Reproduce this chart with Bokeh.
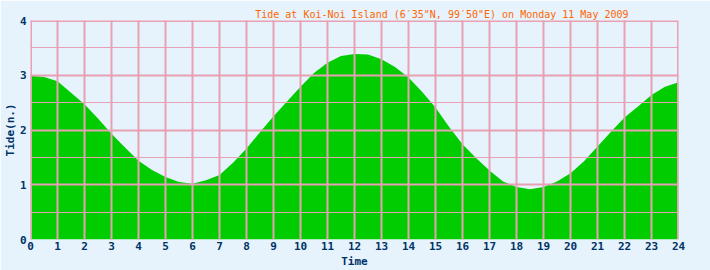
from bokeh.plotting import figure
from bokeh.models import FixedTicker, Range1d, Title, Span
from bokeh.embed import file_html
from bokeh.resources import INLINE

# Data (hour of day, tide height in metres)
hours = [0, 0.5, 1, 1.5, 2, 2.5, 3, 3.5, 4, 4.5, 5, 5.5, 6, 6.5, 7, 7.5, 8, 8.5,
         9, 9.5, 10, 10.5, 11, 11.5, 12, 12.5, 13, 13.5, 14, 14.5, 15, 15.5, 16,
         16.5, 17, 17.5, 18, 18.5, 19, 19.5, 20, 20.5, 21, 21.5, 22, 22.5, 23,
         23.5, 24]
tide = [2.99, 2.97, 2.89, 2.68, 2.47, 2.21, 1.93, 1.68, 1.44, 1.27, 1.14, 1.05,
        1.02, 1.08, 1.18, 1.40, 1.66, 1.96, 2.25, 2.52, 2.79, 3.04, 3.23, 3.35,
        3.39, 3.38, 3.29, 3.15, 2.96, 2.70, 2.41, 2.06, 1.74, 1.49, 1.26, 1.06,
        0.96, 0.92, 0.96, 1.06, 1.21, 1.43, 1.70, 1.97, 2.23, 2.43, 2.64, 2.79,
        2.87]
x_ticks = list(range(0, 25))
y_ticks = [0, 1, 2, 3, 4]
title_text = "Tide at Koi-Noi Island (6\u203235\"N, 99\u203250\"E) on Monday 11 May 2009"

BG = "#E6F2FC"
PINK = "#E8A0B4"
NAVY = "#003366"
GREEN = "#00CC00"
FONT = "DejaVu Sans Mono"

p = figure(width=710, height=270, output_backend="svg", toolbar_location=None,
           x_range=Range1d(0, 24), y_range=Range1d(0, 4),
           min_border_left=30, min_border_right=32, min_border_top=20,
           min_border_bottom=30)
p.background_fill_color = BG
p.border_fill_color = BG
p.outline_line_color = None

p.title = Title(text=title_text, align="right", offset=50,
                text_font=FONT, text_font_size="10px", text_font_style="normal",
                text_color="#FF6600", standoff=2)

p.varea(x=hours, y1=0, y2=tide, fill_color=GREEN)

p.xaxis.ticker = FixedTicker(ticks=x_ticks)
p.yaxis.ticker = FixedTicker(ticks=y_ticks)
for ax in (p.xaxis, p.yaxis):
    ax.axis_line_color = None
    ax.major_tick_line_color = None
    ax.minor_tick_line_color = None
    ax.major_tick_out = 0
    ax.major_tick_in = 0
    ax.minor_tick_out = 0
    ax.minor_tick_in = 0
    ax.major_label_text_font = FONT
    ax.major_label_text_font_style = "bold"
    ax.major_label_text_font_size = "11px"
    ax.major_label_text_color = NAVY
    ax.axis_label_text_font = FONT
    ax.axis_label_text_font_style = "bold"
    ax.axis_label_text_color = NAVY
p.xaxis.axis_label = "Time"
p.yaxis.axis_label = "Tide(n.)"
p.xaxis.axis_label_text_font_size = "11px"
p.yaxis.axis_label_text_font_size = "11px"
p.xaxis.major_label_standoff = 2
p.yaxis.major_label_standoff = 4
p.xaxis.axis_label_standoff = 2
p.yaxis.axis_label_standoff = 0

p.xgrid.ticker = FixedTicker(ticks=x_ticks)
p.ygrid.ticker = FixedTicker(ticks=[1, 2, 3, 4], minor_ticks=[0.5, 1.5, 2.5, 3.5])
p.xgrid.grid_line_color = PINK
p.xgrid.grid_line_width = 2
p.ygrid.grid_line_color = PINK
p.ygrid.grid_line_width = 2
p.ygrid.minor_grid_line_color = PINK
p.ygrid.minor_grid_line_width = 1
p.xgrid.level = "overlay"
p.ygrid.level = "overlay"

# frame edges (top, left, right) drawn in pink like the grid
p.add_layout(Span(location=4, dimension="width", line_color=PINK, line_width=3, level="overlay"))
p.add_layout(Span(location=0, dimension="height", line_color=PINK, line_width=3, level="overlay"))
p.add_layout(Span(location=24, dimension="height", line_color=PINK, line_width=3, level="overlay"))

open("out.html", "w").write(file_html(p, INLINE))
